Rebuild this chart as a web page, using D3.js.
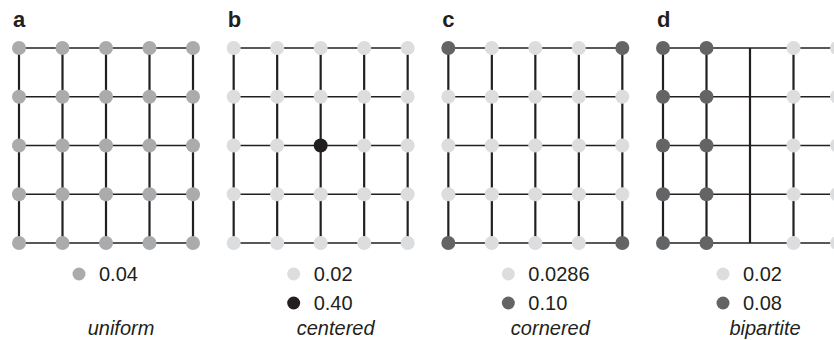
<!DOCTYPE html>
<html>
<head>
<meta charset="utf-8">
<script src="https://cdn.jsdelivr.net/npm/d3@7"></script>
<style>
  body { margin: 0; background: #fff; }
  svg { display: block; font-family: "Liberation Sans", Arial, Helvetica, sans-serif; }
</style>
</head>
<body>
<svg id="chart" width="834" height="340"></svg>
<script>
// panel letters, names and legend entries
var panelLetters = ["a", "b", "c", "d"];
var panelNames = ["uniform", "centered", "cornered", "bipartite"];
var legendValues = [[0.04], [0.02, 0.40], [0.0286, 0.10], [0.02, 0.08]];
var legendLabels = [["0.04"], ["0.02", "0.40"], ["0.0286", "0.10"], ["0.02", "0.08"]];

// node weights per panel, row by row (null = no node drawn)
var weightsA = [
    [0.04, 0.04, 0.04, 0.04, 0.04],
    [0.04, 0.04, 0.04, 0.04, 0.04],
    [0.04, 0.04, 0.04, 0.04, 0.04],
    [0.04, 0.04, 0.04, 0.04, 0.04],
    [0.04, 0.04, 0.04, 0.04, 0.04]
];
var weightsB = [
    [0.02, 0.02, 0.02, 0.02, 0.02],
    [0.02, 0.02, 0.02, 0.02, 0.02],
    [0.02, 0.02, 0.40, 0.02, 0.02],
    [0.02, 0.02, 0.02, 0.02, 0.02],
    [0.02, 0.02, 0.02, 0.02, 0.02]
];
var weightsC = [
    [0.10, 0.0286, 0.0286, 0.0286, 0.10],
    [0.0286, 0.0286, 0.0286, 0.0286, 0.0286],
    [0.0286, 0.0286, 0.0286, 0.0286, 0.0286],
    [0.0286, 0.0286, 0.0286, 0.0286, 0.0286],
    [0.10, 0.0286, 0.0286, 0.0286, 0.10]
];
var weightsD = [
    [0.08, 0.08, null, 0.02, 0.02],
    [0.08, 0.08, null, 0.02, 0.02],
    [0.08, 0.08, null, 0.02, 0.02],
    [0.08, 0.08, null, 0.02, 0.02],
    [0.08, 0.08, null, 0.02, 0.02]
];
var panelWeights = [weightsA, weightsB, weightsC, weightsD];

// grey level for each weight
var weightColor = d3.scaleOrdinal()
    .domain([0.02, 0.0286, 0.04, 0.08, 0.10, 0.40])
    .range(["#dcddde", "#dcddde", "#aaabad", "#636466", "#636466", "#231f20"]);

var svg = d3.select("#chart");

// panel origin, grid columns and rows
var panelX = d3.scaleLinear().domain([0, 3]).range([19, 663]);
var colX = d3.scaleLinear().domain([0, 4]).range([0, 174]);
var rowY = d3.scaleLinear().domain([0, 4]).range([48, 243]);
var legendY = d3.scaleLinear().domain([0, 1]).range([274, 303]);

var idx = d3.range(5);
var lineColor = "#231f20";

var panels = svg.selectAll(".panel")
    .data(panelLetters)
    .enter().append("g")
    .attr("class", "panel")
    .attr("transform", function(d, i) { return "translate(" + panelX(i) + ",0)"; });

// horizontal lines
panels.selectAll(".hline")
    .data(idx)
    .enter().append("line")
    .attr("x1", colX(0)).attr("x2", colX(4))
    .attr("y1", function(r) { return rowY(r); })
    .attr("y2", function(r) { return rowY(r); })
    .attr("stroke", lineColor)
    .attr("stroke-width", 1.6);

// vertical lines
panels.selectAll(".vline")
    .data(idx)
    .enter().append("line")
    .attr("x1", function(c) { return colX(c); })
    .attr("x2", function(c) { return colX(c); })
    .attr("y1", rowY(0)).attr("y2", rowY(4))
    .attr("stroke", lineColor)
    .attr("stroke-width", 2.2);

// nodes
panels.each(function(letter, i) {
    var nodes = [];
    panelWeights[i].forEach(function(row, r) {
        row.forEach(function(w, c) {
            if (w !== null) nodes.push({ r: r, c: c, w: w });
        });
    });
    d3.select(this).selectAll(".node")
        .data(nodes)
        .enter().append("circle")
        .attr("cx", function(d) { return colX(d.c); })
        .attr("cy", function(d) { return rowY(d.r); })
        .attr("r", 7)
        .attr("fill", function(d) { return weightColor(d.w); });
});

// panel letter
panels.append("text")
    .attr("x", -6)
    .attr("y", 27)
    .style("font-size", "22px")
    .style("font-weight", "bold")
    .attr("fill", "#231f20")
    .text(function(d) { return d; });

// legend
panels.each(function(letter, i) {
    var g = d3.select(this);
    var items = legendValues[i].map(function(v, k) { return { v: v, label: legendLabels[i][k], k: k }; });
    g.selectAll(".legdot")
        .data(items)
        .enter().append("circle")
        .attr("cx", 60)
        .attr("cy", function(d) { return legendY(d.k); })
        .attr("r", 6.5)
        .attr("fill", function(d) { return weightColor(d.v); });
    g.selectAll(".legtext")
        .data(items)
        .enter().append("text")
        .attr("x", 80)
        .attr("y", function(d) { return legendY(d.k); })
        .attr("dy", "0.35em")
        .style("font-size", "20px")
        .attr("fill", "#231f20")
        .text(function(d) { return d.label; });
});

// panel name
panels.append("text")
    .attr("x", 102)
    .attr("y", 335)
    .attr("text-anchor", "middle")
    .style("font-size", "20px")
    .style("font-style", "italic")
    .attr("fill", "#231f20")
    .text(function(d, i) { return panelNames[i]; });
</script>
</body>
</html>
